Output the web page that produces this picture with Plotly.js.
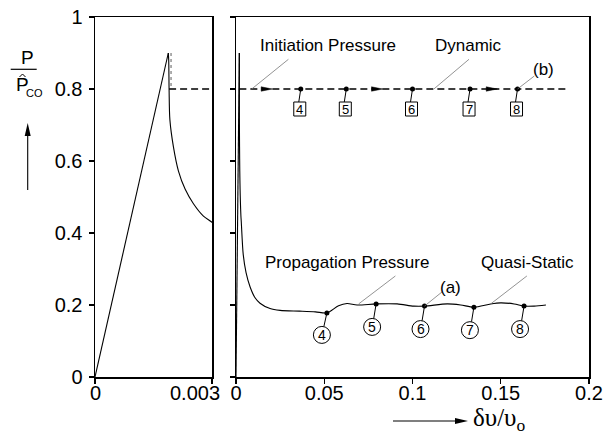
<!DOCTYPE html>
<html><head><meta charset="utf-8">
<script src="https://cdn.plot.ly/plotly-3.0.1.min.js"></script>
<style>html,body{margin:0;padding:0;background:#fff}</style>
</head><body><div id="chart" style="width:603px;height:434px"></div>
<script>
// ---- data ----
const curveX = [0, 0.00188, 0.00189, 0.0019, 0.00192, 0.00201, 0.00214, 0.00231, 0.00252, 0.00278, 0.003,
  0.0041, 0.0057, 0.008, 0.0108, 0.0136, 0.0193, 0.025, 0.036, 0.045, 0.0515, 0.0581, 0.0629, 0.0686,
  0.0794, 0.0913, 0.1007, 0.1068, 0.1197, 0.1273, 0.1348, 0.1443, 0.15, 0.1576, 0.1632, 0.1689, 0.1756];
const curveY = [0, 0.9, 0.88, 0.797, 0.715, 0.64, 0.572, 0.522, 0.482, 0.447, 0.43,
  0.34, 0.29, 0.25, 0.22, 0.205, 0.19, 0.185, 0.183, 0.181, 0.178, 0.198, 0.204, 0.2,
  0.203, 0.203, 0.197, 0.197, 0.203, 0.2, 0.194, 0.203, 0.206, 0.203, 0.197, 0.197, 0.2];
const dynamicX = [0.0019, 0.188];
const dynamicY = [0.8, 0.8];
const dropX = [0.00195, 0.00195];
const dropY = [0.9, 0.8];
const quasiPtX = [0.0515, 0.0794, 0.1068, 0.1348, 0.1632];
const quasiPtY = [0.178, 0.203, 0.197, 0.194, 0.197];
const dynPtX = [0.0367, 0.0625, 0.1, 0.1326, 0.1595];
const dynPtY = [0.8, 0.8, 0.8, 0.8, 0.8];
const stageLabels = ['4', '5', '6', '7', '8'];
const arrowTipX = [0.0205, 0.083, 0.148];
const leftXTicks = [0, 0.003];
const leftXTickText = ['0', '0.003'];
const rightXTicks = [0, 0.05, 0.1, 0.15, 0.2];
const rightXTickText = ['0', '0.05', '0.1', '0.15', '0.2'];
const yTicks = [0, 0.2, 0.4, 0.6, 0.8, 1];
const yTickText = ['0', '0.2', '0.4', '0.6', '0.8', '1'];

// ---- styling / layout ----
const W = 603, H = 434;
const SANS = 'Liberation Sans, Arial, sans-serif';
const px = v => v / W, py = v => 1 - v / H;

const traces = [];
[['x', 'y'], ['x2', 'y2']].forEach(([xa, ya]) => {
  traces.push({x: curveX.slice(0, 2), y: curveY.slice(0, 2), xaxis: xa, yaxis: ya, mode: 'lines',
    line: {color: '#000', width: 1.1}, hoverinfo: 'skip'});
  traces.push({x: curveX.slice(1), y: curveY.slice(1), xaxis: xa, yaxis: ya, mode: 'lines',
    line: {color: '#000', width: 1.1, shape: 'spline', smoothing: 0.8}, hoverinfo: 'skip'});
  traces.push({x: dynamicX, y: dynamicY, xaxis: xa, yaxis: ya, mode: 'lines',
    line: {color: '#000', width: 1.4, dash: '7px,4px'}, hoverinfo: 'skip'});
});
traces.push({x: dropX, y: dropY, xaxis: 'x', yaxis: 'y', mode: 'lines',
  line: {color: '#999', width: 1.6, dash: 'dot'}, hoverinfo: 'skip'});
traces.push({x: quasiPtX, y: quasiPtY, xaxis: 'x2', yaxis: 'y2', mode: 'markers',
  marker: {color: '#000', size: 5}, hoverinfo: 'skip'});
traces.push({x: dynPtX, y: dynPtY, xaxis: 'x2', yaxis: 'y2', mode: 'markers',
  marker: {color: '#000', size: 5}, hoverinfo: 'skip'});

const shapes = [];
const annotations = [];
const ann = o => annotations.push(Object.assign({showarrow: false, xanchor: 'center', yanchor: 'middle'}, o));

// numbered labels: circles below (a) points, boxes below (b) points
quasiPtX.forEach((x, i) => {
  const dx = i === 0 ? -5 : -4, dy = i === 0 ? 22 : 23, r = 8.5;
  shapes.push({type: 'circle', xref: 'x2', yref: 'y2', xsizemode: 'pixel', ysizemode: 'pixel',
    xanchor: x, yanchor: quasiPtY[i], x0: dx - r, x1: dx + r, y0: -dy - r, y1: -dy + r,
    line: {color: '#000', width: 1}});
  shapes.push({type: 'line', xref: 'x2', yref: 'y2', xsizemode: 'pixel', ysizemode: 'pixel',
    xanchor: x, yanchor: quasiPtY[i], x0: 0, x1: dx * 0.6, y0: 0, y1: -(dy - r),
    line: {color: '#000', width: 1}});
  ann({xref: 'x2', yref: 'y2', x: x, y: quasiPtY[i], xshift: dx, yshift: -dy,
    text: stageLabels[i], font: {family: SANS, size: 14, color: '#000'}});
});
dynPtX.forEach((x, i) => {
  const dx = -1, dy = 20, hw = 6, hh = 7;
  shapes.push({type: 'rect', xref: 'x2', yref: 'y2', xsizemode: 'pixel', ysizemode: 'pixel',
    xanchor: x, yanchor: dynPtY[i], x0: dx - hw, x1: dx + hw, y0: -dy - hh, y1: -dy + hh,
    line: {color: '#000', width: 1}});
  shapes.push({type: 'line', xref: 'x2', yref: 'y2', xsizemode: 'pixel', ysizemode: 'pixel',
    xanchor: x, yanchor: dynPtY[i], x0: 0, x1: -2, y0: 0, y1: -(dy - hh),
    line: {color: '#000', width: 1}});
  ann({xref: 'x2', yref: 'y2', x: x, y: dynPtY[i], xshift: dx, yshift: -dy,
    text: stageLabels[i], font: {family: SANS, size: 13, color: '#000'}});
});
// arrowheads on the dynamic line
arrowTipX.forEach(x => {
  shapes.push({type: 'path', xref: 'x2', yref: 'y2', xsizemode: 'pixel', ysizemode: 'pixel',
    xanchor: x, yanchor: dynamicY[0], path: 'M0,0 L-11,2.2 L-11,-2.2 Z',
    fillcolor: '#000', line: {color: '#000', width: 0.5}});
});

// text labels + leader lines (data coordinates of right panel)
const textLabels = [
  {t: 'Initiation Pressure', x: 0.052, y: 0.922, l: [0.0089, 0.8, 0.0297, 0.8825]},
  {t: 'Dynamic', x: 0.1318, y: 0.922, l: [0.1121, 0.8, 0.132, 0.8825]},
  {t: '(b)', x: 0.1745, y: 0.853, l: [0.1595, 0.8, 0.169, 0.836]},
  {t: 'Propagation Pressure', x: 0.063, y: 0.319, l: [0.0695, 0.203, 0.0903, 0.2806]},
  {t: 'Quasi-Static', x: 0.165, y: 0.319, l: [0.1443, 0.203, 0.1648, 0.2806]},
  {t: '(a)', x: 0.1216, y: 0.25, l: [0.1068, 0.197, 0.1169, 0.237]},
];
textLabels.forEach(o => {
  ann({xref: 'x2', yref: 'y2', x: o.x, y: o.y, text: o.t, font: {family: SANS, size: 17, color: '#000'}});
  shapes.push({type: 'line', xref: 'x2', yref: 'y2', x0: o.l[0], y0: o.l[1], x1: o.l[2], y1: o.l[3],
    line: {color: '#777', width: 0.8}});
});

// left panel x tick labels (the 0.003 label sits left of its tick, as in the reference)
leftXTicks.forEach((v, i) => {
  ann({xref: 'x', yref: 'paper', x: v, y: py(393), text: leftXTickText[i],
    xanchor: i === 0 ? 'center' : 'right', xshift: i === 0 ? 0 : 10,
    font: {family: SANS, size: 20, color: '#000'}});
});

// y axis label: P over P^_CO with upward arrow
ann({xref: 'paper', yref: 'paper', x: px(28), y: py(58), text: 'P', font: {family: SANS, size: 19, color: '#000'}});
shapes.push({type: 'line', xref: 'paper', yref: 'paper', x0: px(10.7), x1: px(36.7), y0: py(69.3), y1: py(69.3),
  line: {color: '#000', width: 1.2}});
ann({xref: 'paper', yref: 'paper', x: px(22.5), y: py(84), text: 'P', font: {family: SANS, size: 19, color: '#000'}});
shapes.push({type: 'path', xref: 'paper', yref: 'paper', xsizemode: 'pixel', ysizemode: 'pixel',
  xanchor: px(22.5), yanchor: py(75.5), path: 'M-3,-1.5 L0,1.5 L3,-1.5', line: {color: '#000', width: 1}});
ann({xref: 'paper', yref: 'paper', x: px(34.5), y: py(93.5), text: 'CO', font: {family: SANS, size: 11, color: '#000'}});
shapes.push({type: 'line', xref: 'paper', yref: 'paper', x0: px(27.7), x1: px(27.7), y0: py(190), y1: py(130),
  line: {color: '#000', width: 1.1}});
shapes.push({type: 'path', xref: 'paper', yref: 'paper', xsizemode: 'pixel', ysizemode: 'pixel',
  xanchor: px(27.7), yanchor: py(123), path: 'M0,0 L-3,-13 L3,-13 Z', fillcolor: '#000', line: {width: 0}});

// x axis label: arrow + δυ/υo
shapes.push({type: 'line', xref: 'paper', yref: 'paper', x0: px(393), x1: px(460), y0: py(421), y1: py(421),
  line: {color: '#000', width: 1.1}});
shapes.push({type: 'path', xref: 'paper', yref: 'paper', xsizemode: 'pixel', ysizemode: 'pixel',
  xanchor: px(468), yanchor: py(421), path: 'M0,0 L-13,3 L-13,-3 Z', fillcolor: '#000', line: {width: 0}});
ann({xref: 'paper', yref: 'paper', x: px(471), y: py(419), xanchor: 'left',
  text: '\u03B4\u03C5/\u03C5<sub>o</sub>', font: {family: 'Liberation Serif, Times New Roman, serif', size: 25, color: '#000'}});

const axisCommon = {showline: true, mirror: true, linecolor: '#000', linewidth: 1.5, showgrid: false,
  zeroline: false, ticks: 'outside', ticklen: 5, tickwidth: 1.2, tickcolor: '#000',
  tickfont: {family: SANS, size: 20, color: '#000'}, fixedrange: true};
const yDom = [57 / H, 417 / H];
const layout = {
  width: W, height: H, margin: {l: 0, r: 0, t: 0, b: 0}, showlegend: false,
  paper_bgcolor: '#fff', plot_bgcolor: '#fff',
  xaxis: Object.assign({}, axisCommon, {domain: [95 / W, 212 / W], range: [0, 0.003], anchor: 'y',
    tickmode: 'array', tickvals: leftXTicks, showticklabels: false}),
  yaxis: Object.assign({}, axisCommon, {domain: yDom, range: [0, 1], anchor: 'x',
    tickmode: 'array', tickvals: yTicks, ticktext: yTickText, ticklabelstandoff: 2}),
  xaxis2: Object.assign({}, axisCommon, {domain: [236 / W, 589 / W], range: [0, 0.2], anchor: 'y2',
    tickmode: 'array', tickvals: rightXTicks, ticktext: rightXTickText, ticklabelstandoff: -8}),
  yaxis2: Object.assign({}, axisCommon, {domain: yDom, range: [0, 1], anchor: 'x2',
    tickmode: 'array', tickvals: yTicks, showticklabels: false}),
  shapes: shapes, annotations: annotations
};
Plotly.newPlot('chart', traces, layout, {displayModeBar: false, staticPlot: true});
</script></body></html>
